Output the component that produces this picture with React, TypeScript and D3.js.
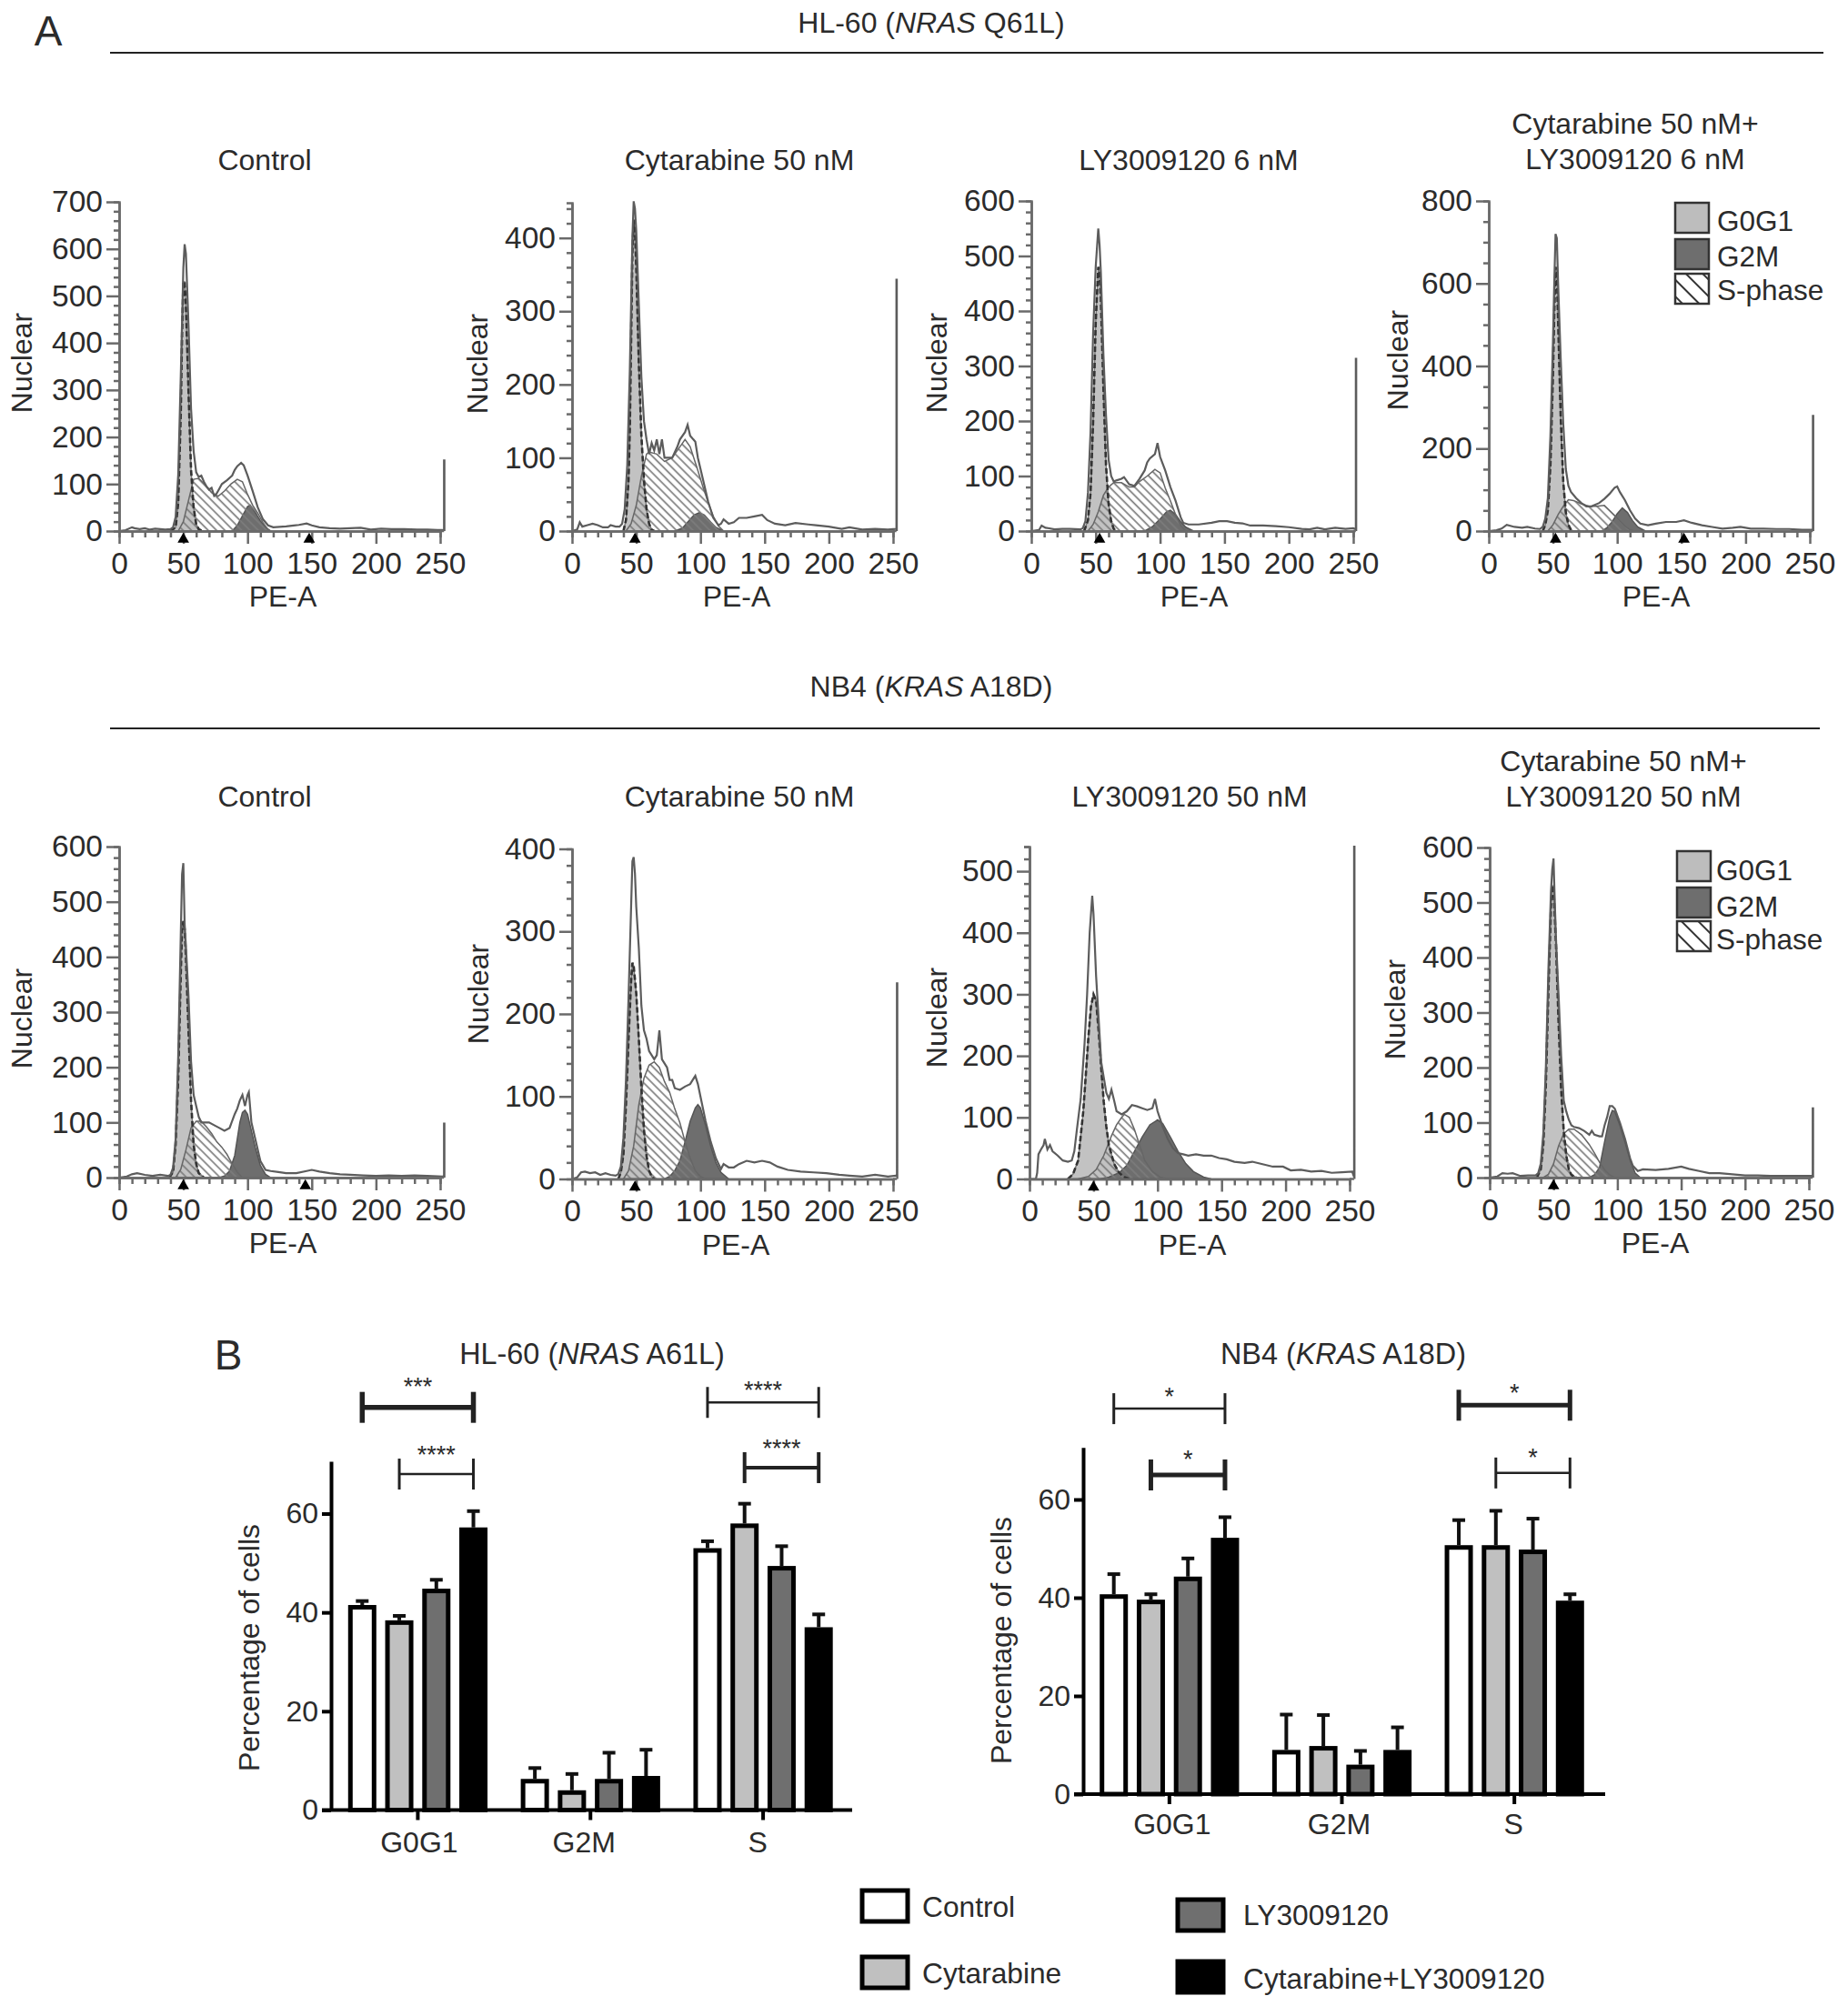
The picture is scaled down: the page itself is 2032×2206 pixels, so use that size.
import React, { useEffect, useRef } from 'react';
import * as d3 from 'd3';

type Pt = [number, number];

// flow cytometry traces as [PE-A, count]
const hlControlTotal: Pt[] = [[0,0],[5,2],[10,8],[12,6],[16,4],[20,6],[24,3],[28,5],[32,4],[36,3],[40,4],[42,8],[44,30],[46,120],[48,330],[50,560],[51,610],[52,590],[54,440],[56,260],[58,170],[60,125],[62,115],[64,118],[66,105],[68,95],[70,88],[72,92],[74,75],[76,80],[78,90],[80,100],[84,108],[88,118],[90,130],[92,138],[95,145],[97,140],[100,118],[104,85],[108,50],[112,25],[116,12],[120,8],[130,10],[136,12],[140,13],[146,16],[150,12],[156,8],[164,6],[172,5],[180,6],[188,7],[196,3],[204,5],[212,4],[222,4],[232,3],[240,3],[248,2],[252,2]];
const hlControlG0G1: Pt[] = [[40,0],[44,8],[46,60],[48,250],[49,420],[50,530],[51,530],[52,480],[54,300],[56,130],[58,50],[60,15],[62,4],[65,0]];
const hlControlS: Pt[] = [[46,0],[50,20],[54,65],[58,110],[62,112],[68,95],[72,82],[77,74],[82,85],[87,100],[92,110],[96,105],[100,78],[104,55],[108,38],[112,18],[116,3],[118,0]];
const hlControlG2M: Pt[] = [[88,0],[92,12],[96,32],[100,52],[102,55],[106,40],[110,22],[114,8],[118,0]];

const hlCytaTotal: Pt[] = [[0,0],[4,2],[6,12],[8,6],[12,8],[16,10],[20,8],[24,5],[28,5],[30,8],[34,6],[37,6],[39,10],[41,30],[43,90],[45,220],[47,400],[48,450],[49,440],[50,410],[52,310],[54,210],[56,150],[58,125],[60,105],[62,120],[64,110],[66,125],[68,105],[70,125],[72,100],[74,100],[78,100],[82,115],[84,125],[88,135],[90,145],[92,130],[96,122],[98,100],[102,70],[106,40],[110,18],[114,8],[116,10],[118,16],[122,10],[126,12],[130,18],[136,18],[142,20],[148,22],[152,15],[158,10],[166,8],[174,11],[184,9],[190,8],[200,6],[210,3],[216,5],[226,2],[236,3],[246,2],[252,3]];
const hlCytaG0G1: Pt[] = [[40,0],[42,15],[44,70],[45,140],[46,260],[47,380],[48,425],[49,410],[50,360],[52,230],[54,130],[56,70],[58,30],[60,10],[62,2],[64,0]];
const hlCytaS: Pt[] = [[42,0],[46,10],[50,35],[54,75],[58,105],[60,108],[66,105],[72,95],[78,100],[84,115],[88,125],[92,115],[97,88],[102,60],[107,34],[110,20],[114,7],[118,0]];
const hlCytaG2M: Pt[] = [[80,0],[86,4],[90,12],[95,22],[99,25],[103,22],[108,12],[112,5],[118,0]];

const hlLyTotal: Pt[] = [[0,0],[6,2],[8,10],[11,6],[14,5],[18,3],[24,4],[30,4],[38,3],[40,5],[42,18],[44,70],[46,180],[48,360],[50,480],[52,550],[53,520],[54,470],[56,320],[58,210],[60,130],[62,100],[64,90],[66,92],[70,95],[72,98],[76,85],[80,82],[84,95],[88,110],[90,125],[92,132],[96,140],[98,160],[100,135],[104,110],[108,80],[112,55],[116,25],[118,15],[122,12],[130,12],[140,15],[146,18],[152,18],[158,15],[164,14],[170,10],[180,10],[190,9],[200,7],[210,4],[216,3],[222,6],[228,3],[236,6],[244,4],[250,5],[252,3]];
const hlLyG0G1: Pt[] = [[41,0],[44,20],[46,70],[48,200],[50,380],[52,480],[53,470],[54,420],[56,260],[58,120],[60,50],[62,18],[64,4],[66,0]];
const hlLyS: Pt[] = [[44,0],[48,12],[52,35],[56,65],[60,80],[64,88],[70,88],[76,80],[80,80],[84,90],[90,100],[96,112],[100,106],[104,78],[108,55],[112,30],[116,10],[120,0]];
const hlLyG2M: Pt[] = [[88,0],[94,8],[100,22],[105,35],[108,38],[112,30],[116,17],[120,7],[126,0]];

const hlComboTotal: Pt[] = [[0,0],[6,2],[10,6],[14,15],[20,10],[26,8],[30,10],[36,6],[40,5],[42,10],[44,30],[46,80],[48,230],[50,460],[51,600],[52,720],[53,710],[54,600],[56,420],[58,260],[60,150],[62,110],[64,95],[68,80],[72,68],[76,60],[80,60],[86,68],[90,78],[94,90],[98,105],[100,108],[102,95],[106,75],[110,50],[114,30],[118,18],[124,14],[130,18],[138,22],[146,22],[152,26],[158,20],[166,14],[174,10],[182,6],[190,8],[196,10],[204,6],[214,6],[224,5],[234,5],[244,3],[252,3]];
const hlComboG0G1: Pt[] = [[42,0],[44,15],[46,50],[48,160],[50,380],[51,530],[52,640],[53,630],[54,510],[56,280],[58,120],[60,45],[62,15],[64,3],[66,0]];
const hlComboS: Pt[] = [[46,0],[50,15],[54,40],[58,60],[62,76],[66,74],[72,66],[78,60],[84,60],[90,62],[94,50],[98,38],[102,25],[106,12],[110,3],[114,0]];
const hlComboG2M: Pt[] = [[88,0],[92,8],[96,22],[100,42],[104,56],[108,45],[112,25],[116,10],[122,0]];

const nbControlTotal: Pt[] = [[0,0],[6,2],[10,6],[14,8],[20,5],[26,3],[32,5],[38,3],[40,5],[42,18],[44,70],[46,220],[48,440],[49,550],[50,570],[51,460],[52,420],[54,330],[56,210],[58,150],[60,130],[62,110],[64,100],[66,100],[70,100],[74,95],[78,90],[82,85],[86,90],[90,115],[92,125],[94,140],[96,150],[98,130],[100,150],[101,155],[103,100],[106,70],[110,30],[114,14],[118,12],[124,10],[130,8],[138,8],[146,12],[150,14],[156,11],[164,8],[172,6],[180,5],[190,4],[200,3],[210,4],[220,3],[230,4],[240,3],[252,2]];
const nbControlG0G1: Pt[] = [[39,0],[42,10],[44,60],[46,180],[48,370],[49,450],[50,465],[51,450],[52,400],[54,270],[56,140],[58,60],[60,25],[62,8],[66,0]];
const nbControlS: Pt[] = [[44,0],[48,15],[52,50],[56,90],[60,102],[64,102],[68,92],[72,80],[76,65],[80,55],[84,42],[88,25],[92,10],[96,0]];
const nbControlG2M: Pt[] = [[78,0],[82,3],[86,12],[90,40],[94,100],[96,118],[98,122],[100,115],[102,95],[106,55],[110,22],[114,6],[118,0]];

const nbCytaTotal: Pt[] = [[0,0],[4,2],[7,8],[10,9],[14,7],[18,8],[22,5],[26,7],[30,5],[34,4],[36,6],[38,15],[40,50],[42,120],[44,220],[46,330],[47,385],[48,390],[49,370],[50,330],[52,280],[54,210],[56,180],[58,170],[60,155],[62,150],[64,145],[66,150],[68,180],[70,145],[72,140],[74,135],[76,120],[78,120],[80,110],[84,108],[88,112],[92,115],[96,125],[98,115],[100,100],[104,70],[108,45],[112,25],[116,12],[118,18],[122,14],[126,14],[130,18],[136,22],[142,20],[148,22],[154,20],[160,15],[168,11],[178,9],[188,8],[198,7],[208,5],[216,4],[226,3],[236,5],[246,3],[252,4]];
const nbCytaG0G1: Pt[] = [[36,0],[38,8],[40,30],[42,90],[44,170],[46,240],[47,262],[48,258],[50,225],[52,170],[54,110],[56,60],[58,28],[60,10],[62,3],[64,0]];
const nbCytaS: Pt[] = [[40,0],[44,10],[48,40],[52,90],[56,122],[60,138],[64,142],[68,135],[72,118],[76,105],[80,85],[84,68],[88,45],[92,25],[96,10],[100,3],[104,0]];
const nbCytaG2M: Pt[] = [[72,0],[76,3],[80,10],[84,22],[88,45],[92,70],[96,86],[98,90],[100,86],[104,65],[108,40],[112,20],[116,8],[122,0]];

const nbLyTotal: Pt[] = [[0,0],[5,0],[6,10],[7,40],[9,48],[11,55],[12,65],[14,48],[16,55],[18,45],[22,38],[26,30],[30,28],[33,30],[35,45],[37,80],[40,130],[43,220],[45,300],[47,400],[49,460],[50,430],[52,330],[54,260],[56,190],[58,165],[60,140],[62,130],[64,145],[66,128],[68,110],[72,105],[76,110],[80,120],[84,118],[88,115],[92,112],[96,115],[98,130],[100,110],[104,85],[108,65],[112,50],[116,42],[120,40],[124,38],[130,40],[136,38],[142,38],[148,34],[154,32],[160,28],[168,26],[174,28],[182,24],[190,20],[198,20],[204,14],[212,15],[220,12],[228,13],[236,10],[244,11],[252,12]];
const nbLyG0G1: Pt[] = [[30,0],[34,8],[38,30],[42,110],[46,230],[48,280],[50,300],[52,290],[54,240],[56,180],[58,125],[60,85],[62,55],[64,40],[66,25],[70,10],[74,3],[78,0]];
const nbLyS: Pt[] = [[38,0],[46,4],[52,15],[58,38],[64,70],[68,88],[72,100],[74,105],[78,100],[82,80],[86,55],[90,30],[96,12],[102,3],[108,0]];
const nbLyG2M: Pt[] = [[55,0],[62,3],[70,10],[76,22],[82,45],[88,68],[94,88],[100,96],[104,90],[110,68],[116,45],[122,25],[128,12],[136,3],[142,0]];

const nbComboTotal: Pt[] = [[0,0],[6,2],[10,8],[14,7],[18,8],[24,3],[30,4],[36,4],[38,8],[40,25],[42,80],[44,200],[46,380],[48,520],[49,560],[50,580],[51,500],[52,430],[54,330],[56,220],[58,140],[60,120],[62,105],[64,95],[66,92],[70,90],[74,85],[78,78],[80,85],[82,78],[86,75],[88,75],[90,95],[92,110],[94,130],[96,130],[98,125],[102,100],[106,70],[110,35],[112,22],[116,12],[120,15],[130,14],[140,16],[150,20],[156,16],[164,12],[172,8],[180,8],[190,6],[200,4],[210,4],[220,3],[232,3],[244,3],[252,3]];
const nbComboG0G1: Pt[] = [[37,0],[40,15],[42,60],[44,170],[46,340],[48,490],[49,530],[50,530],[52,420],[54,280],[56,160],[58,85],[60,40],[62,15],[64,5],[68,0]];
const nbComboS: Pt[] = [[42,0],[46,6],[50,25],[54,58],[58,80],[62,88],[66,88],[72,78],[78,60],[82,45],[86,28],[90,14],[94,5],[98,0]];
const nbComboG2M: Pt[] = [[78,0],[82,5],[86,18],[90,65],[94,110],[96,122],[98,120],[102,95],[106,65],[110,32],[114,8],[118,0]];

const xMajor = [0, 50, 100, 150, 200, 250];
const xMinor = d3.range(0, 251, 10);

// pixel frames of the eight small plots
const panels = [
  { title: ['Control'], cx: 291, ty: 186.5, x0: 131, x1: 484, y0: 584, yTop: 222, yMax: 700, major: [0,100,200,300,400,500,600,700], minorStep: 20, total: hlControlTotal, g1: hlControlG0G1, s: hlControlS, g2: hlControlG2M, spike: 150, spikeX: 253, peaks: [50, 148], labelX: 35, labelY: 399, tx: 311 },
  { title: ['Cytarabine 50 nM'], cx: 813, ty: 186.5, x0: 629, x1: 982, y0: 584, yTop: 223, yMax: 448, major: [0,100,200,300,400], minorStep: 20, total: hlCytaTotal, g1: hlCytaG0G1, s: hlCytaS, g2: hlCytaG2M, spike: 343, spikeX: 252.6, peaks: [49], labelX: 536, labelY: 400, tx: 810 },
  { title: ['LY3009120 6 nM'], cx: 1307, ty: 186.5, x0: 1134, x1: 1488, y0: 584, yTop: 221, yMax: 600, major: [0,100,200,300,400,500,600], minorStep: 20, total: hlLyTotal, g1: hlLyG0G1, s: hlLyS, g2: hlLyG2M, spike: 313, spikeX: 252, peaks: [53], labelX: 1041, labelY: 399, tx: 1313 },
  { title: ['Cytarabine 50 nM+', 'LY3009120 6 nM'], cx: 1798, ty: 186, x0: 1637, x1: 1990, y0: 584, yTop: 221, yMax: 800, major: [0,200,400,600,800], minorStep: 50, total: hlComboTotal, g1: hlComboG0G1, s: hlComboS, g2: hlComboG2M, spike: 279, spikeX: 252.4, peaks: [52, 152], labelX: 1548, labelY: 396, tx: 1821 },
  { title: ['Control'], cx: 291, ty: 887, x0: 131, x1: 484, y0: 1295, yTop: 931, yMax: 600, major: [0,100,200,300,400,500,600], minorStep: 20, total: nbControlTotal, g1: nbControlG0G1, s: nbControlS, g2: nbControlG2M, spike: 98, spikeX: 253, peaks: [50, 145], labelX: 35, labelY: 1120, tx: 311 },
  { title: ['Cytarabine 50 nM'], cx: 813, ty: 887, x0: 629, x1: 982, y0: 1296.5, yTop: 933.5, yMax: 400, major: [0,100,200,300,400], minorStep: 20, total: nbCytaTotal, g1: nbCytaG0G1, s: nbCytaS, g2: nbCytaG2M, spike: 237, spikeX: 253, peaks: [49], labelX: 537, labelY: 1093, tx: 809 },
  { title: ['LY3009120 50 nM'], cx: 1308, ty: 887, x0: 1132, x1: 1484, y0: 1296.5, yTop: 931, yMax: 540, major: [0,100,200,300,400,500], minorStep: 20, total: nbLyTotal, g1: nbLyG0G1, s: nbLyS, g2: nbLyG2M, spike: 540, spikeX: 253.5, peaks: [50], labelX: 1041, labelY: 1119, tx: 1311 },
  { title: ['Cytarabine 50 nM+', 'LY3009120 50 nM'], cx: 1785, ty: 887, x0: 1638, x1: 1989, y0: 1295, yTop: 932, yMax: 600, major: [0,100,200,300,400,500,600], minorStep: 20, total: nbComboTotal, g1: nbComboG0G1, s: nbComboS, g2: nbComboG2M, spike: 126, spikeX: 253, peaks: [50], labelX: 1545, labelY: 1110, tx: 1820 },
];

// bar charts in panel B
const groups = ['G0G1', 'G2M', 'S'];
const treatments = ['Control', 'Cytarabine', 'LY3009120', 'Cytarabine+LY3009120'];
const treatmentFill = ['#ffffff', '#c0c0c0', '#6f6f6f', '#000000'];

const hlBarValues = [[41.5, 38.4, 44.8, 57.2], [6.3, 4, 6.3, 6.9], [53, 58, 49.4, 37]];
const hlBarErrors = [[42.3, 39.3, 46.6, 60.5], [8.5, 7.3, 11.6, 12.2], [54.4, 62, 53.4, 39.6]];
const nbBarValues = [[40.7, 39.6, 44.3, 52.2], [9, 9.8, 6, 9], [50.7, 50.7, 49.8, 39.4]];
const nbBarErrors = [[44.8, 40.7, 48, 56.4], [16.2, 16.1, 8.8, 13.6], [55.8, 57.7, 56.1, 40.7]];

// from/to are treatment indexes inside group g; level is on the % axis
const hlBrackets = [
  { g: 0, from: 0, to: 3, level: 81.5, stars: '***', weight: 5.5, lift: 10 },
  { g: 0, from: 1, to: 3, level: 68, stars: '****', weight: 2.5, lift: 8 },
  { g: 2, from: 0, to: 3, level: 82.5, stars: '****', weight: 2.5, lift: 0 },
  { g: 2, from: 1, to: 3, level: 69.3, stars: '****', weight: 4, lift: 8 },
];
const nbBrackets = [
  { g: 0, from: 0, to: 3, level: 78.5, stars: '*', weight: 2.5, lift: 0 },
  { g: 0, from: 1, to: 3, level: 65, stars: '*', weight: 5, lift: 4 },
  { g: 2, from: 0, to: 3, level: 79.2, stars: '*', weight: 5, lift: 0 },
  { g: 2, from: 1, to: 3, level: 65.4, stars: '*', weight: 2.5, lift: 4 },
];

const FONT = '"Liberation Sans", Arial, sans-serif';
const INK = '#2b2b2b';
const AXIS = '#6a6a6a';

type Sel = d3.Selection<SVGSVGElement, unknown, null, undefined>;

function addText(svg: any, x: number, y: number, text: string, size: number, anchor = 'middle') {
  return svg.append('text')
    .attr('x', x).attr('y', y)
    .attr('text-anchor', anchor)
    .attr('font-size', size)
    .attr('font-family', FONT)
    .attr('fill', INK)
    .text(text);
}

// title with an italic gene name in the middle
function addGeneTitle(svg: any, x: number, y: number, parts: string[], size: number) {
  const t = addText(svg, x, y, '', size);
  t.append('tspan').text(parts[0]);
  t.append('tspan').attr('font-style', 'italic').text(parts[1]);
  t.append('tspan').text(parts[2]);
}

function drawHistogram(svg: Sel, p: (typeof panels)[number]) {
  const x = d3.scaleLinear().domain([0, 250]).range([p.x0, p.x1]);
  const y = d3.scaleLinear().domain([0, p.yMax]).range([p.y0, p.yTop]);
  const g = svg.append('g');

  const area = d3.area<Pt>().x(d => x(d[0])).y0(y(0)).y1(d => y(d[1]));
  const line = d3.line<Pt>().x(d => x(d[0])).y(d => y(d[1]));

  g.append('path').attr('d', area(p.g1)).attr('fill', '#c2c2c2').attr('stroke', '#777').attr('stroke-width', 1.5);
  g.append('path').attr('d', area(p.g2)).attr('fill', '#6e6e6e').attr('stroke', '#555').attr('stroke-width', 1.5);
  g.append('path').attr('d', area(p.s)).attr('fill', 'url(#hatch)').attr('stroke', '#666').attr('stroke-width', 1.5);
  g.append('path').attr('d', line(p.g1)).attr('fill', 'none').attr('stroke', '#333').attr('stroke-width', 2.6).attr('stroke-dasharray', '6 3');

  const trace: Pt[] = [...p.total, [p.spikeX, 3], [p.spikeX, p.spike], [p.spikeX + 0.3, p.spike], [p.spikeX + 0.3, 0]];
  g.append('path').attr('d', line(trace)).attr('fill', 'none').attr('stroke', '#5c5c5c').attr('stroke-width', 2.2);

  const yMinor = d3.range(0, p.yMax + 1, p.minorStep).filter(v => !p.major.includes(v));
  const xMinorOnly = xMinor.filter(v => !xMajor.includes(v));

  const styleAxis = (a: any) => {
    a.select('.domain').attr('stroke', AXIS).attr('stroke-width', 2.5);
    a.selectAll('.tick line').attr('stroke', AXIS).attr('stroke-width', 2.5);
    a.selectAll('text').attr('font-size', 33.5).attr('font-family', FONT).attr('fill', INK);
  };

  const yAxis = g.append('g').attr('transform', `translate(${p.x0},0)`)
    .call(d3.axisLeft(y).tickValues(p.major).tickFormat(d3.format('d') as any).tickSizeInner(14).tickSizeOuter(0).tickPadding(4));
  styleAxis(yAxis);
  const yAxisMinor = g.append('g').attr('transform', `translate(${p.x0},0)`)
    .call(d3.axisLeft(y).tickValues(yMinor).tickFormat(() => '').tickSize(6));
  styleAxis(yAxisMinor);

  const xAxis = g.append('g').attr('transform', `translate(0,${p.y0})`)
    .call(d3.axisBottom(x).tickValues(xMajor).tickFormat(d3.format('d') as any).tickSizeInner(14).tickSizeOuter(0).tickPadding(9));
  styleAxis(xAxis);
  const xAxisMinor = g.append('g').attr('transform', `translate(0,${p.y0})`)
    .call(d3.axisBottom(x).tickValues(xMinorOnly).tickFormat(() => '').tickSize(7));
  styleAxis(xAxisMinor);
  g.append('line').attr('x1', x(250)).attr('x2', x(p.spikeX)).attr('y1', y(0)).attr('y2', y(0)).attr('stroke', AXIS).attr('stroke-width', 2.5);

  const tri = d3.symbol().type(d3.symbolTriangle).size(70);
  p.peaks.forEach(v => {
    g.append('path').attr('d', tri()).attr('fill', '#000').attr('transform', `translate(${x(v)},${p.y0 + 9})`);
  });

  p.title.forEach((line, i) => {
    addText(svg, p.cx, p.ty - (p.title.length - 1 - i) * 39, line, 32);
  });
  addText(svg, p.tx, p.y0 + 83, 'PE-A', 32);
  addText(svg, 0, 0, 'Nuclear', 32).attr('transform', `translate(${p.labelX},${p.labelY}) rotate(-90)`);
}

function drawPhaseLegend(svg: Sel, x: number, boxes: number[], baselines: number[], textGap: number) {
  const items = [['G0G1', '#bdbdbd'], ['G2M', '#6e6e6e'], ['S-phase', 'url(#hatchWide)']];
  items.forEach(([label, fill], i) => {
    svg.append('rect').attr('x', x).attr('y', boxes[i]).attr('width', 37).attr('height', 33)
      .attr('fill', fill).attr('stroke', '#333').attr('stroke-width', 2.5);
    addText(svg, x + textGap, baselines[i], label, 31.5, 'start');
  });
}

function drawBars(svg: Sel, cfg: {
  x0: number; x1: number; axisLeft: number; axisRight: number; y0: number; y60: number;
  values: number[][]; errors: number[][]; brackets: typeof hlBrackets;
  labelX: number; labelY: number; labelPad: number; labelShift: number[];
}) {
  const y = d3.scaleLinear().domain([0, 60]).range([cfg.y0, cfg.y60]);
  const x = d3.scaleBand().domain(groups).range([cfg.x0, cfg.x1]);
  const span = 163;
  const inner = d3.scaleBand().domain(treatments).range([-span / 2, span / 2]);
  const barX = (gi: number, ti: number) =>
    (x(groups[gi]) as number) + x.bandwidth() / 2 + (inner(treatments[ti]) as number) + inner.bandwidth() / 2;
  const barW = 26;
  const edge = 2.5; // half the outline, so the outline stops at the value

  cfg.values.forEach((row, gi) => row.forEach((v, ti) => {
    const cx = barX(gi, ti);
    const top = y(cfg.errors[gi][ti]);
    svg.append('line').attr('x1', cx).attr('x2', cx).attr('y1', y(v)).attr('y2', top).attr('stroke', '#111').attr('stroke-width', 4);
    svg.append('line').attr('x1', cx - 7).attr('x2', cx + 7).attr('y1', top).attr('y2', top).attr('stroke', '#111').attr('stroke-width', 4);
    svg.append('rect').attr('x', cx - barW / 2).attr('y', y(v) + edge).attr('width', barW).attr('height', cfg.y0 - y(v) - edge)
      .attr('fill', treatmentFill[ti]).attr('stroke', '#000').attr('stroke-width', 5);
  }));

  const axisFont = (a: any) => {
    a.selectAll('text').attr('font-size', 32).attr('font-family', FONT).attr('fill', INK);
    a.select('.domain').attr('stroke', '#000').attr('stroke-width', 4);
    a.selectAll('.tick line').attr('stroke', '#000').attr('stroke-width', 4);
  };
  const left = svg.append('g').attr('transform', `translate(${cfg.axisLeft},0)`)
    .call(d3.axisLeft(d3.scaleLinear().domain([0, 70.6]).range([cfg.y0, y(70.6)])).tickValues([0, 20, 40, 60]).tickFormat(d3.format('d') as any).tickSizeInner(10).tickSizeOuter(0).tickPadding(4));
  axisFont(left);
  const bottom = svg.append('g').attr('transform', `translate(0,${cfg.y0})`)
    .call(d3.axisBottom(x).tickSizeInner(11).tickSizeOuter(0).tickPadding(cfg.labelPad));
  axisFont(bottom);
  bottom.select('.domain').remove();
  bottom.selectAll('.tick text').attr('dx', (_d: any, i: number) => cfg.labelShift[i]);
  svg.append('line').attr('x1', cfg.axisLeft - 10).attr('x2', cfg.axisRight).attr('y1', cfg.y0).attr('y2', cfg.y0).attr('stroke', '#000').attr('stroke-width', 4);

  cfg.brackets.forEach(b => {
    const a = barX(b.g, b.from);
    const c = barX(b.g, b.to);
    const yy = y(b.level);
    const gb = svg.append('g').attr('stroke', '#222').attr('stroke-width', b.weight);
    gb.append('line').attr('x1', a).attr('x2', c).attr('y1', yy).attr('y2', yy);
    gb.append('line').attr('x1', a).attr('x2', a).attr('y1', yy - 17).attr('y2', yy + 17).attr('stroke-width', Math.max(b.weight, 3));
    gb.append('line').attr('x1', c).attr('x2', c).attr('y1', yy - 17).attr('y2', yy + 17).attr('stroke-width', Math.max(b.weight, 3));
    addText(svg, (a + c) / 2, yy - 4 - b.lift, b.stars, 27);
  });

  addText(svg, 0, 0, 'Percentage of cells', 32).attr('transform', `translate(${cfg.labelX},${cfg.labelY}) rotate(-90)`);
}

export default function App() {
  const svgRef = useRef<SVGSVGElement>(null);

  useEffect(() => {
    if (!svgRef.current) return;
    const svg = d3.select(svgRef.current) as unknown as Sel;
    svg.selectAll('*').remove();

    const defs = svg.append('defs');
    const hatch = defs.append('pattern').attr('id', 'hatch').attr('patternUnits', 'userSpaceOnUse')
      .attr('width', 6.5).attr('height', 6.5).attr('patternTransform', 'rotate(-45)');
    hatch.append('line').attr('x1', 3).attr('x2', 3).attr('y1', 0).attr('y2', 6.5).attr('stroke', '#7c7c7c').attr('stroke-width', 1.7);
    const wide = defs.append('pattern').attr('id', 'hatchWide').attr('patternUnits', 'userSpaceOnUse')
      .attr('width', 13).attr('height', 13).attr('patternTransform', 'rotate(-45)');
    wide.append('rect').attr('width', 13).attr('height', 13).attr('fill', '#fff');
    wide.append('line').attr('x1', 6).attr('x2', 6).attr('y1', 0).attr('y2', 13).attr('stroke', '#333').attr('stroke-width', 2);

    addText(svg, 53, 50, 'A', 46);
    addGeneTitle(svg, 1024, 36, ['HL-60 (', 'NRAS', ' Q61L)'], 32);
    svg.append('line').attr('x1', 121).attr('x2', 2005).attr('y1', 58).attr('y2', 58).attr('stroke', '#222').attr('stroke-width', 2);
    addGeneTitle(svg, 1024, 766, ['NB4 (', 'KRAS', ' A18D)'], 32);
    svg.append('line').attr('x1', 121).attr('x2', 2001).attr('y1', 801).attr('y2', 801).attr('stroke', '#222').attr('stroke-width', 2);

    panels.forEach(p => drawHistogram(svg, p));
    drawPhaseLegend(svg, 1842, [223, 263, 301], [254, 293, 330], 46);
    drawPhaseLegend(svg, 1844, [936, 976, 1013], [968, 1008, 1044], 43);

    addText(svg, 251, 1506, 'B', 46);
    addGeneTitle(svg, 651, 1500, ['HL-60 (', 'NRAS', ' A61L)'], 32.4);
    addGeneTitle(svg, 1477, 1500, ['NB4 (', 'KRAS', ' A18D)'], 32.4);

    drawBars(svg, { x0: 364.5, x1: 934, axisLeft: 364, axisRight: 937, y0: 1990.5, y60: 1664.5, values: hlBarValues, errors: hlBarErrors, brackets: hlBrackets, labelX: 285, labelY: 1812, labelPad: 12.5, labelShift: [1.5, -7, -6] });
    drawBars(svg, { x0: 1191, x1: 1760, axisLeft: 1191, axisRight: 1765, y0: 1973, y60: 1649, values: nbBarValues, errors: nbBarErrors, brackets: nbBrackets, labelX: 1112, labelY: 1804, labelPad: 10, labelShift: [3, -3, -1] });

    const legendBox = [[946, 2077], [946, 2150], [1293, 2087], [1293, 2155]];
    const legendText = [[1014, 2108], [1014, 2181], [1367, 2117], [1367, 2187]];
    treatments.forEach((t, i) => {
      svg.append('rect').attr('x', legendBox[i][0] + 2).attr('y', legendBox[i][1] + 2).attr('width', 50).attr('height', 34)
        .attr('fill', treatmentFill[i]).attr('stroke', '#000').attr('stroke-width', 5);
      addText(svg, legendText[i][0], legendText[i][1], t, 31.7, 'start');
    });
  }, []);

  return (
    <svg
      ref={svgRef}
      width={2032}
      height={2206}
      style={{ position: 'absolute', left: 0, top: 0, background: '#fff' }}
    />
  );
}
